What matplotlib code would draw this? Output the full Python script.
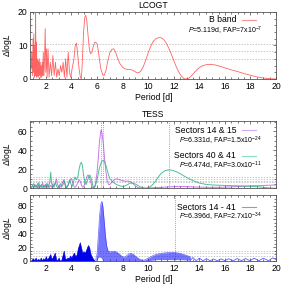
import matplotlib
matplotlib.use("Agg")
import matplotlib.pyplot as plt
from matplotlib.ticker import MultipleLocator

plt.rcParams['font.family'] = ['Liberation Sans', 'DejaVu Sans']
plt.rcParams['mathtext.fontset'] = 'custom'
plt.rcParams['mathtext.rm'] = 'Liberation Sans'
plt.rcParams['mathtext.it'] = 'Liberation Sans:italic'

# ---------------- data ----------------
# LCOGT B band periodogram
lc_period = [0.85, 0.9, 0.95, 1.0, 1.03, 1.06, 1.1, 1.13, 1.17, 1.2, 1.23, 1.27, 1.3, 1.33, 1.37, 1.4,
             1.44, 1.48, 1.52, 1.56, 1.6, 1.64, 1.68, 1.72, 1.76, 1.8, 1.85, 1.9, 1.95, 2.0, 2.05, 2.1,
             2.17, 2.25, 2.35, 2.45, 2.55, 2.65, 2.75, 2.85, 2.95, 3.05, 3.15, 3.25, 3.35, 3.45, 3.55,
             3.65, 3.75, 3.85, 3.95, 4.05, 4.2, 4.3, 4.4, 4.5, 4.6, 4.7, 4.78, 4.85, 4.95, 5.05, 5.12,
             5.2, 5.3, 5.4, 5.5, 5.6, 5.7, 5.8, 5.9, 6.0, 6.1, 6.2, 6.3, 6.45, 6.55, 6.7, 6.85, 7.0,
             7.15, 7.3, 7.45, 7.6, 7.8, 8.0, 8.2, 8.4, 8.6, 8.8, 9.0, 9.2, 9.4, 9.6, 9.8, 10.0, 10.2,
             10.4, 10.6, 10.8, 11.0, 11.2, 11.4, 11.6, 11.8, 12.0, 12.2, 12.4, 12.6, 12.8, 13.0, 13.2,
             13.4, 13.6, 13.8, 14.0, 14.3, 14.6, 14.9, 15.2, 15.6, 16.0, 16.5, 17.0, 17.5, 18.0, 18.5,
             19.0, 19.5, 20.0]
lc_dlogl = [3, 8, 1, 12, 2, 13.5, 0.5, 10, 1, 19.5, 3, 11, 0.5, 6, 1, 5.5,
            0.5, 6, 1, 5, 0.3, 4, 0.5, 5, 1, 8, 1, 6, 15, 2, 9, 0.5,
            9, 0.5, 5, 1, 7, 1, 5, 0.5, 3, 1, 4, 2, 5, 0.5, 6,
            0.5, 8, 2, 0.5, 3, 6, 10, 10.7, 7, 3, 0.5, 0, 5, 14, 18.5, 19,
            17.5, 13, 9, 7.5, 8, 9.5, 10.8, 11, 10.5, 8.5, 5.5, 3, 1.2, 1, 2.5, 5.5, 7.8,
            8.8, 9, 8, 6.3, 4.5, 3.5, 3, 2.8, 2.8, 2.6, 2.1, 1.8, 2.2, 3.5, 5.5, 7.8, 9.8,
            11.2, 12, 12.3, 12.3, 11.8, 10.8, 9.3, 7.5, 5.5, 3.6, 2, 0.8, 0.1, 0, 0.3,
            1, 1.9, 2.7, 3.4, 4, 4.3, 4.35, 4.2, 3.8, 3.3, 2.7, 2.2, 1.6, 1.1, 0.6,
            0.3, 0.05, 0]
lc_levels = [10.5, 8.2, 5.9]

# TESS sectors 14 & 15
s1415_period = [0.85, 0.95, 1.05, 1.15, 1.25, 1.35, 1.45, 1.55, 1.65, 1.75, 1.85, 1.95, 2.05, 2.15,
                2.25, 2.35, 2.45, 2.55, 2.65, 2.75, 2.83, 2.92, 3.0, 3.1, 3.2, 3.3, 3.4, 3.5, 3.6,
                3.7, 3.8, 3.9, 4.0, 4.1, 4.2, 4.3, 4.4, 4.5, 4.6, 4.7, 4.8, 4.9, 5.0, 5.1, 5.2, 5.3,
                5.4, 5.5, 5.6, 5.7, 5.8, 5.9, 6.0, 6.1, 6.2, 6.3, 6.33, 6.4, 6.5, 6.6, 6.7, 6.8, 6.9,
                7.0, 7.2, 7.4, 7.6, 7.8, 8.0, 8.2, 8.4, 8.6, 8.8, 9.0, 9.2, 9.4, 9.6, 10, 11, 12,
                12.5, 13, 14, 15, 16, 17, 18, 19, 20]
s1415_dlogl = [1, 3, 0.5, 4, 1, 5, 0.5, 3, 1, 6, 0.5, 4, 1, 5,
               0.5, 3, 1, 5, 1, 7, 10, 4, 1, 3, 1, 6, 9, 3, 0.5,
               2, 5, 8, 10.5, 6, 2, 1, 3, 6, 9, 7, 3, 1, 3, 8, 12, 14,
               12, 7, 2, 0.3, 1, 6, 16, 32, 50, 60, 61.5, 58, 46, 30, 17, 8, 4,
               4, 7, 9.5, 10, 9, 8, 7.5, 7.5, 7, 5, 2.5, 0.8, 0.2, 0.1, 0.3, 1, 1.8,
               2, 1.8, 1.2, 1, 1.2, 1.8, 2.5, 3, 3.5]

# TESS sectors 40 & 41
s4041_period = [0.85, 0.95, 1.05, 1.15, 1.25, 1.35, 1.45, 1.55, 1.65, 1.75, 1.85, 1.95, 2.05, 2.15,
                2.25, 2.32, 2.38, 2.45, 2.55, 2.65, 2.75, 2.85, 2.95, 3.05, 3.15, 3.25, 3.35, 3.45,
                3.55, 3.65, 3.75, 3.85, 3.95, 4.05, 4.15, 4.27, 4.4, 4.5, 4.6, 4.7, 4.78, 4.86, 4.95,
                5.05, 5.15, 5.25, 5.35, 5.45, 5.55, 5.65, 5.75, 5.85, 5.95, 6.05, 6.15, 6.25, 6.35,
                6.47, 6.6, 6.7, 6.8, 6.9, 7.0, 7.2, 7.4, 7.6, 7.8, 8.0, 8.2, 8.4, 8.6, 8.8, 9.0, 9.2,
                9.4, 9.6, 9.8, 10.0, 10.2, 10.4, 10.6, 10.8, 11.0, 11.3, 11.6, 11.9, 12.2, 12.5, 12.8,
                13.2, 13.6, 14.0, 14.5, 15, 16, 17, 18, 18.5, 19, 19.5, 20]
s4041_dlogl = [0.5, 2, 5, 1, 3, 0.5, 6, 1, 4, 0.5, 3, 1, 5, 1,
               3, 8, 17, 5, 1, 3, 6, 2, 0.5, 3, 5, 2, 4, 8,
               3, 1, 4, 9, 5, 2, 6, 12, 9, 12, 20, 26, 27.5, 24, 14,
               6, 4, 8, 12, 14, 10, 4, 0.5, 2, 6, 12, 19, 24, 28,
               29.5, 28, 24, 19, 14, 10.5, 7, 5, 3.5, 2.5, 2, 2.5, 4, 5.5, 5.5, 4.5, 3,
               1.5, 0.5, 0, 0.5, 2, 4.5, 8, 12, 15.5, 18.5, 19.5, 19, 17.5, 15.5, 13,
               10, 7.5, 5.5, 4.2, 3.5, 3, 2.6, 2.2, 1.8, 1, 0.3, 0]
tess_levels = [12.3, 10.0, 7.8, 6.2]
tess_vlines = [6.331, 6.474, 11.6]

# TESS sectors 14 - 41 (densely oscillating periodogram: envelopes + resolved wiggles)
all_dense_period = [0.85, 0.9, 1.0, 1.1, 1.2, 1.3, 1.4, 1.5, 1.6, 1.7, 1.8, 1.9, 2.0, 2.1, 2.2, 2.35,
                    2.45, 2.55, 2.7, 2.8, 2.9, 3.0, 3.1, 3.2, 3.3, 3.4, 3.5, 3.6, 3.7, 3.8, 3.9, 4.0,
                    4.1, 4.2, 4.3, 4.4, 4.5, 4.6, 4.66, 4.75, 4.85, 4.95, 5.05, 5.15, 5.22, 5.31, 5.4,
                    5.5, 5.6, 5.7, 5.8, 5.9]
all_dense_top = [1, 2, 4, 1, 5, 1, 3, 0.5, 5, 1, 4, 2, 7, 2, 5, 10,
                 3, 6, 12, 3, 1, 5, 0.5, 1, 8, 15, 4, 3, 5, 4, 8, 5,
                 9, 12, 7, 9, 18, 24, 27, 20, 12, 14, 12, 16, 20, 23, 19,
                 10, 6, 3, 1, 0]
all_light_period = [5.9, 6.0, 6.1, 6.2, 6.3, 6.38, 6.45, 6.55, 6.65, 6.75, 6.85, 7.0, 7.2, 7.4, 7.6,
                    7.8, 8.0, 8.2, 8.4, 8.6, 8.8, 9.0, 9.2, 9.4, 9.6, 9.8, 10.0, 10.3, 10.6, 11.0,
                    11.5, 12.0, 12.5, 13.0, 13.3]
all_light_top = [2, 10, 35, 65, 82, 86, 80, 60, 38, 22, 15, 13, 14, 14, 12,
                 9, 6, 6, 9, 11, 10, 7, 4, 2, 1, 2, 4, 7, 9.5, 11,
                 12, 12.5, 11, 8, 6]
all_light_bottom = [0, 2, 5, 6, 5, 3, 1, 0.5, 0.3, 0.3, 0.3, 0.3, 0.3, 0.3, 0.3,
                    0.3, 0.3, 0.3, 0.3, 0.3, 0.3, 0.3, 0.3, 0.3, 0.3, 0.3, 0.3, 1, 2, 2,
                    2, 2, 2, 1.5, 1]
all_wiggle_period = [13.3, 13.5, 13.75, 14.0, 14.3, 14.55, 14.85, 15.1, 15.4, 15.7, 16.0, 16.3, 16.65,
                     16.95, 17.3, 17.6, 17.95, 18.3, 18.65, 19.0, 19.4, 19.75, 20.0]
all_wiggle_dlogl = [1, 5, 0.5, 4, 0.3, 3.5, 0.3, 3, 0.3, 3, 0.5, 3.2, 0.5,
                    3.5, 0.5, 3.5, 0.5, 4, 0.5, 4, 0.5, 4.5, 2]
all_levels = [14.5, 11.0, 7.0]
all_vlines = [12.1]

# ---------------- figure ----------------
fig = plt.figure(figsize=(2.81, 2.84), dpi=100)
L, W = 0.1085, 0.874
ax1 = fig.add_axes([L, 0.722, W, 0.236])
ax2 = fig.add_axes([L, 0.337, W, 0.237])
ax3 = fig.add_axes([L, 0.081, W, 0.232])

FS = 6.2
SFS = 5.0
grid_kw = dict(color='#b0b0b0', lw=0.5, ls=(0, (2, 2)), zorder=0)

def style(ax, ymax, ymaj, ymin_, xlabels=True):
    ax.set_xlim(0.8, 20)
    ax.set_ylim(0, ymax)
    ax.xaxis.set_major_locator(MultipleLocator(2))
    ax.xaxis.set_minor_locator(MultipleLocator(0.5))
    ax.yaxis.set_major_locator(MultipleLocator(ymaj))
    ax.yaxis.set_minor_locator(MultipleLocator(ymin_))
    ax.tick_params(which='both', direction='in', top=True, right=True,
                   labelsize=FS, pad=2, width=0.5, color='#444444')
    ax.tick_params(which='major', length=2.5)
    ax.tick_params(which='minor', length=1.3)
    for s in ax.spines.values():
        s.set_linewidth(0.6)
        s.set_color('#555555')
    ax.set_ylabel(r'$\Delta$log$L$', fontsize=FS, labelpad=3)
    if not xlabels:
        ax.tick_params(labelbottom=False)
    else:
        ax.set_xlabel('Period [d]', fontsize=FS, labelpad=1.5)

# --- LCOGT ---
style(ax1, 20, 10, 2)
for lv in lc_levels:
    ax1.axhline(lv, **grid_kw)
ax1.plot(lc_period, lc_dlogl, color='#ff3030', lw=0.6, alpha=0.75)
ax1.set_title('LCOGT', fontsize=FS, pad=2.5)
t = ax1.transAxes
ax1.text(0.837, 0.88, 'B band', transform=t, ha='right', va='center', fontsize=FS)
ax1.plot([0.861, 0.919], [0.88, 0.88], transform=t, color='#ff9090', lw=0.8)
ax1.text(0.943, 0.716, r'$P$=5.119d, FAP=7x10$^{-7}$', transform=t, ha='right', va='center', fontsize=SFS)

# --- TESS 14&15, 40&41 ---
style(ax2, 71, 20, 5, xlabels=False)
for lv in tess_levels:
    ax2.axhline(lv, **grid_kw)
for xv in tess_vlines:
    ax2.axvline(xv, color='#888888', lw=0.5, ls=(0, (1.5, 1.5)), zorder=0)
ax2.plot(s1415_period, s1415_dlogl, color='#b040e0', lw=0.7, alpha=0.7)
ax2.plot(s4041_period, s4041_dlogl, color='#20b080', lw=0.7, alpha=0.8)
ax2.set_title('TESS', fontsize=FS, pad=3)
t = ax2.transAxes
ax2.text(0.837, 0.866, 'Sectors 14 & 15', transform=t, ha='right', va='center', fontsize=FS)
ax2.plot([0.861, 0.919], [0.866, 0.866], transform=t, color='#d8a8f0', lw=0.8)
ax2.text(0.943, 0.703, r'$P$=6.331d, FAP=1.5x10$^{-24}$', transform=t, ha='right', va='center', fontsize=SFS)
ax2.text(0.837, 0.48, 'Sectors 40 & 41', transform=t, ha='right', va='center', fontsize=FS)
ax2.plot([0.861, 0.919], [0.48, 0.48], transform=t, color='#90dcc0', lw=0.8)
ax2.text(0.943, 0.33, r'$P$=6.474d, FAP=3.0x10$^{-11}$', transform=t, ha='right', va='center', fontsize=SFS)

# --- TESS 14 - 41 ---
style(ax3, 95, 20, 5)
for lv in all_levels:
    ax3.axhline(lv, **grid_kw)
for xv in all_vlines:
    ax3.axvline(xv, color='#888888', lw=0.5, ls=(0, (1.5, 1.5)), zorder=0)
ax3.fill_between(all_dense_period, 0, all_dense_top, color='#0000e8', lw=0.4, zorder=2)
ax3.fill_between(all_light_period, all_light_bottom, all_light_top, color='#1a1aff', alpha=0.6,
                 lw=0, zorder=2)
ax3.plot(all_light_period, all_light_top, color='#2a2aff', lw=0.5, alpha=0.7, zorder=3)
ax3.plot(all_wiggle_period, all_wiggle_dlogl, color='#4040ff', lw=0.6, alpha=0.85, zorder=3)
t = ax3.transAxes
ax3.text(0.837, 0.818, 'Sectors 14 - 41', transform=t, ha='right', va='center', fontsize=FS)
ax3.plot([0.861, 0.919], [0.818, 0.818], transform=t, color='#9090ff', lw=0.8)
ax3.text(0.943, 0.667, r'$P$=6.396d, FAP=2.7x10$^{-34}$', transform=t, ha='right', va='center', fontsize=SFS)

fig.savefig('out.png', dpi=100)
